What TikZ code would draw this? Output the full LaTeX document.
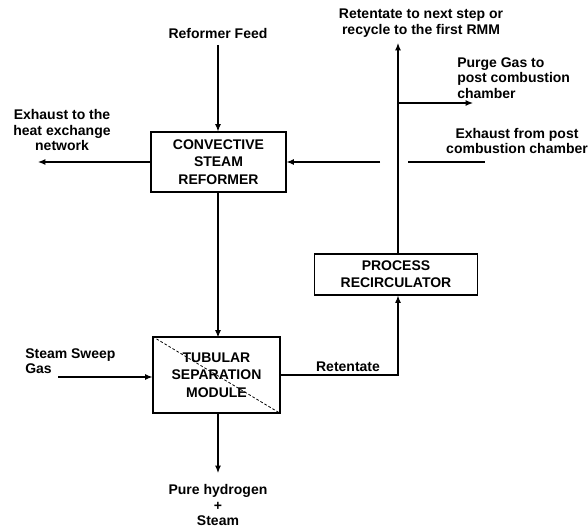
\documentclass[tikz,border=0pt]{standalone}
\usepackage{fontspec}
\setmainfont{Liberation Sans}
\usetikzlibrary{arrows.meta}

\begin{document}
\begin{tikzpicture}[x=0.75pt,y=0.75pt,yscale=-1,xscale=1,
  flow/.style={draw, line width=0.8pt, -{Latex[length=5.5pt,width=4.4pt]}},
  wire/.style={draw, line width=0.8pt},
  blk/.style={draw, line width=0.8pt, align=center, inner sep=2pt, font=\fontsize{10.5}{13}\selectfont\bfseries},
  lbl/.style={align=center, inner sep=0pt, font=\fontsize{10.5}{11.5}\selectfont\bfseries}]
\useasboundingbox (0,0) rectangle (588,528);

% Block Node
\node [blk, minimum width=101.25pt, minimum height=45pt] (csr) at (218.5,162) {CONVECTIVE\\STEAM\\REFORMER};
% Block Node
\node [blk, minimum width=95.25pt, minimum height=57pt] (tsm) at (216.5,375) {TUBULAR\\SEPARATION\\MODULE};
% Block Node
\node [blk, minimum width=122pt, minimum height=30.75pt] (prc) at (396,274.5) {PROCESS\\RECIRCULATOR};

% Text Node
\node [lbl] (feed) at (218,33) {Reformer Feed};
% Text Node
\node [lbl] (rnext) at (421,23) {Retentate to next step or\\recycle to the first RMM};
% Text Node
\node [lbl, align=left, anchor=west] (purge) at (457,78) {Purge Gas to\\post combustion\\chamber};
% Text Node
\node [lbl] (exfrom) at (517,141) {Exhaust from post\\combustion chamber};
% Text Node
\node [lbl] (exto) at (62,130) {Exhaust to the\\heat exchange\\network};
% Text Node
\node [lbl, align=left, anchor=west] (sweep) at (25,361) {Steam Sweep\\Gas};
% Text Node
\node [lbl] (ret) at (348,367) {Retentate};
% Text Node
\node [lbl] (h2) at (218,505) {Pure hydrogen\\+\\Steam};

% Free ends
\coordinate (feedtop) at (218,45);
\coordinate (top) at (398,43);
\coordinate (br) at (398,103);
\coordinate (brend) at (473,103);
\coordinate (exin) at (380,162);
\coordinate (exout) at (38,162);
\coordinate (segl) at (408,162);
\coordinate (segr) at (485,162);
\coordinate (sw) at (58,377);
\coordinate (h2end) at (218,473);

% Connection
\draw [flow] (feedtop) -- (feedtop |- csr.north);
% Connection
\draw [flow] (csr.west) -- (exout);
% Connection
\draw [flow] (exin) -- (csr.east);
% Connection
\draw [wire] (segl) -- (segr);
% Connection
\draw [flow] (218,192) -- (218,337.5);
% Connection
\draw [flow] (sw) -- (sw -| tsm.west);
% Connection
\draw [flow] (tsm.east) -| (top |- prc.south);
% Connection
\draw [flow] (top |- prc.north) -- (top);
% Connection
\draw [flow] (br) -- (brend);
% Connection
\draw [flow] (h2end |- tsm.south) -- (h2end);
% Membrane
\draw [line width=0.6pt, dash pattern=on 2pt off 1.5pt] (tsm.north west) -- (tsm.south east);

\end{tikzpicture}
\end{document}
